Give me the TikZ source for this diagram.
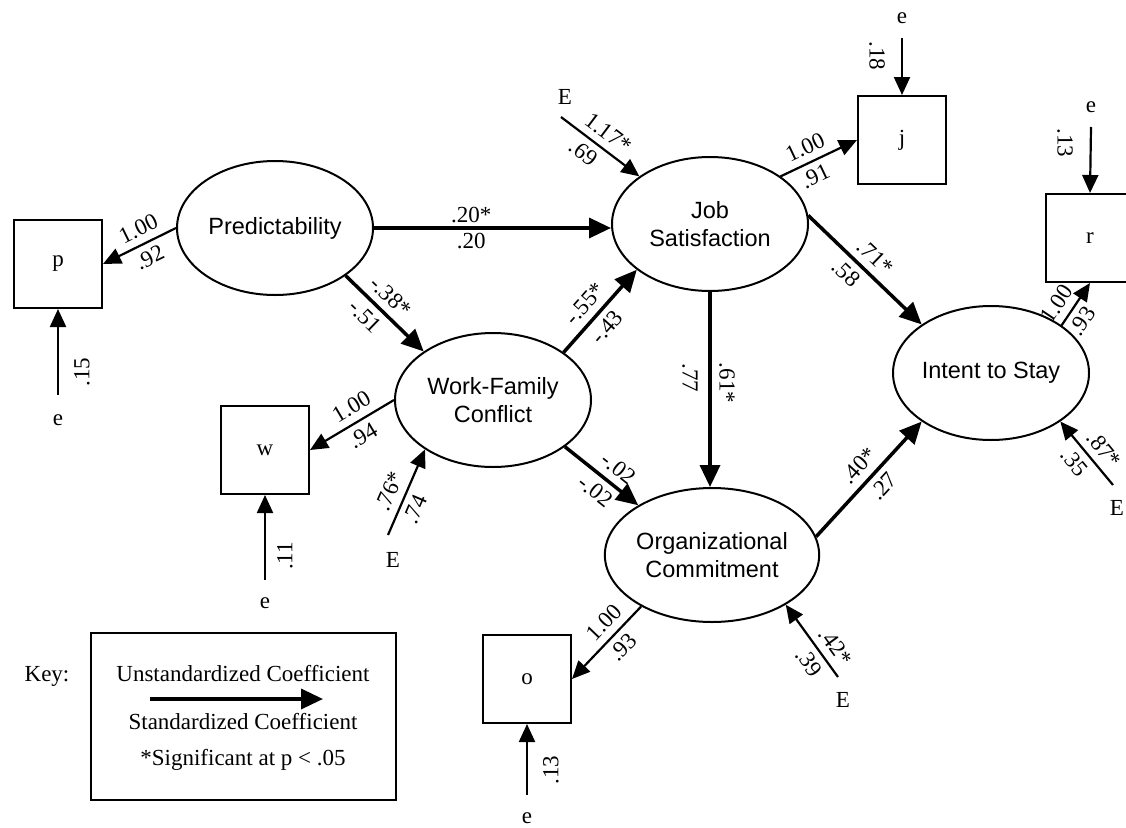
\documentclass[tikz,border=0pt]{standalone}
\usepackage{fontspec}
\setmainfont{Liberation Serif}
\newfontfamily\hsans{Liberation Sans}
\usetikzlibrary{arrows.meta,shapes.geometric}
\begin{document}
\begin{tikzpicture}[x=1pt,y=-1pt,
  latent/.style={ellipse, draw, line width=2pt, minimum width=196pt, minimum height=134pt, inner sep=0pt, align=center, font=\hsans\fontsize{23.5}{28}\selectfont},
  obs/.style={rectangle, draw, line width=2pt, minimum width=88pt, minimum height=88pt, inner sep=0pt, font=\fontsize{23}{27}\selectfont},
  txt/.style={font=\fontsize{23}{27}\selectfont, inner sep=1pt},
  lbl/.style={font=\fontsize{23}{27}\selectfont, inner sep=1pt},
  up/.style={lbl, sloped, above=6pt},
  dn/.style={lbl, sloped, below=5pt},
  strong/.style={line width=3.5pt, -{Triangle[length=22pt,width=20pt]}},
  weak/.style={line width=2.2pt, -{Triangle[length=18pt,width=16pt]}},
]
\useasboundingbox (0,0) rectangle (1126,827);

% latent variables
\node[latent] (P) at (275,228) {Predictability};
\node[latent] (JS) at (710,224) {Job\\Satisfaction};
\node[latent] (WFC) at (493,400) {Work-Family\\Conflict};
\node[latent] (OC) at (712,555) {Organizational\\Commitment};
\node[latent] (ITS) at (991,373) {Intent to Stay};

% observed indicators
\node[obs] (p) at (58,264) {p};
\node[obs] (w) at (265,450) {w};
\node[obs] (j) at (902,140) {j};
\node[obs] (r) at (1090,238) {r};
\node[obs] (o) at (527,679) {o};

% error terms
\node[txt] (ep) at (58,420) {e};   \coordinate (epS) at (58,395);
\node[txt] (ew) at (265,603) {e};  \coordinate (ewS) at (265,580);
\node[txt] (eo) at (527,818) {e};  \coordinate (eoS) at (527,795);
\node[txt] (ej) at (902,18) {e};   \coordinate (ejS) at (902,38);
\node[txt] (er) at (1091,107) {e}; \coordinate (erS) at (1091,127);
\node[txt] (EJS) at (565,97) {E};   \coordinate (EJSs) at (561,117);
\node[txt] (EWFC) at (393,560) {E}; \coordinate (EWFCs) at (388,535);
\node[txt] (EOC) at (843,700) {E};  \coordinate (EOCs) at (838,677);
\node[txt] (EITS) at (1117,508) {E}; \coordinate (EITSs) at (1113,485);

% structural paths
\draw[strong] (P.-34) -- (WFC.145)
  node[up,pos=0.43] (a1) {-.38*}
  node[dn,pos=0.39] (a2) {-.51};
\draw[strong] (P.east) -- (P.east -| JS.west)
  node[lbl,above=2pt,pos=0.41] (a3) {.20*}
  node[lbl,below=2pt,pos=0.41] (a4) {.20};
\draw[strong] (WFC.34) -- (JS.212)
  node[up,pos=0.46] (a5) {-.55*}
  node[dn,pos=0.43] (a6) {-.43};
\draw[strong] (WFC.-33) -- (OC.146)
  node[up,pos=0.59] (a7) {-.02}
  node[dn,pos=0.55] (a8) {-.02};
\draw[strong] (JS.south) -- (JS.south |- OC.north);
\node[lbl,rotate=-90] (a9) at (690,378) {.77};
\node[lbl,rotate=-90] (a10) at (727,383) {.61*};
\draw[strong] (JS.5) -- (ITS.145)
  node[up,pos=0.49] (a11) {.71*}
  node[dn,pos=0.43] (a12) {.58};
\draw[strong] (OC.10) -- (ITS.215)
  node[up,pos=0.52] (a13) {.40*}
  node[dn,pos=0.53] (a14) {.27};

% measurement paths
\draw[weak] (P.west) -- (p.east)
  node[up,pos=0.42] (b1) {1.00}
  node[dn,pos=0.45] (b2) {.92};
\draw[weak] (WFC.west) -- (w.east)
  node[up,pos=0.41] (b3) {1.00}
  node[dn,pos=0.46] (b4) {.94};
\draw[weak] (JS.34) -- (j.west)
  node[up,pos=0.41] (b5) {1.00}
  node[dn,pos=0.37] (b6) {.91};
\draw[weak] (OC.216) -- (o.east)
  node[up,pos=0.37] (b7) {1.00}
  node[dn,pos=0.42] (b8) {.93};
\draw[weak] (ITS.34) -- (r.south)
  node[up,pos=0.3] (b9) {1.00}
  node[dn,pos=0.3] (b10) {.93};

% error paths
\draw[weak] (epS) -- (p.south);
\node[lbl,rotate=90] (c1) at (82,372) {.15};
\draw[weak] (ewS) -- (w.south);
\node[lbl,rotate=90] (c2) at (285,556) {.11};
\draw[weak] (eoS) -- (o.south);
\node[lbl,rotate=90] (c3) at (551,770) {.13};
\draw[weak] (ejS) -- (j.north);
\node[lbl,rotate=-90] (c4) at (877,56) {.18};
\draw[weak] (erS) -- (r.north);
\node[lbl,rotate=-90] (c5) at (1065,143) {.13};
\draw[weak] (EJSs) -- (JS.146)
  node[up,pos=0.48] (c6) {1.17*}
  node[dn,pos=0.40] (c7) {.69};
\draw[weak] (EWFCs) -- (WFC.216)
  node[up,pos=0.44] (c8) {.76*}
  node[dn,pos=0.37] (c9) {.74};
\draw[weak] (EOCs) -- (OC.-34)
  node[up,pos=0.29] (c10) {.42*}
  node[dn,pos=0.32] (c11) {.39};
\draw[weak] (EITSs) -- (ITS.-35)
  node[up,pos=0.40] (c12) {.87*}
  node[dn,pos=0.51] (c13) {.35};

% key
\node[txt] (keylbl) at (47,676) {Key:};
\node[draw, line width=2pt, minimum width=305pt, minimum height=167pt, inner sep=0pt] (keybox) at (243.5,716.5) {};
\node[txt] (ku) at (243,674) {Unstandardized Coefficient};
\coordinate (ka) at (150,699);
\coordinate (kb) at (323,699);
\draw[strong] (ka) -- (kb);
\node[txt] (ks) at (243,722) {Standardized Coefficient};
\node[txt] (ksig) at (243,760) {*Significant at p < .05};
\end{tikzpicture}
\end{document}
